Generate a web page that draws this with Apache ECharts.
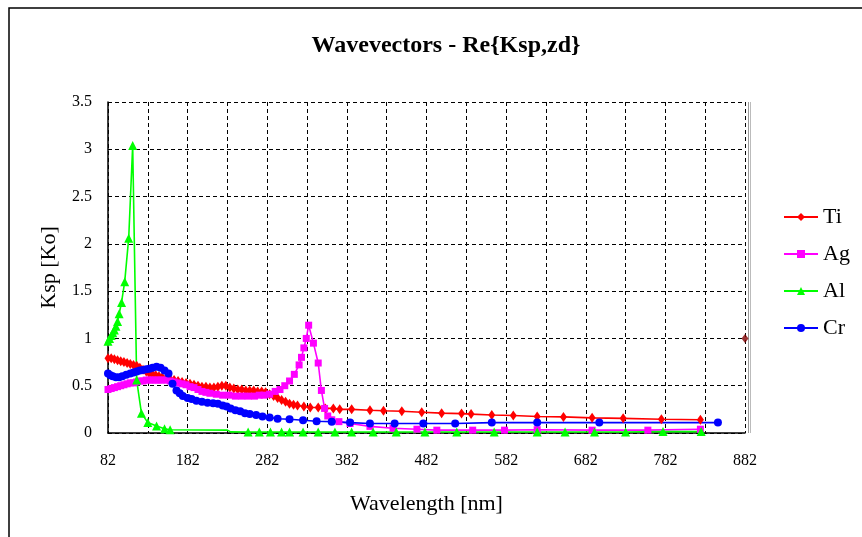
<!DOCTYPE html>
<html>
<head>
<meta charset="utf-8">
<script src="https://cdn.jsdelivr.net/npm/echarts@6/dist/echarts.min.js"></script>
<style>
html,body{margin:0;padding:0;background:#fff;}
#c{width:862px;height:537px;}
</style>
</head>
<body>
<div id="c"></div>
<script>
// ---- data (wavelength nm, Ksp/Ko) ----
const titleText = 'Wavevectors - Re{Ksp,zd}';
const xAxisName = 'Wavelength [nm]';
const yAxisName = 'Ksp [Ko]';
const xTickLabels = [82, 182, 282, 382, 482, 582, 682, 782, 882];
const seriesNames = ['Ti', 'Ag', 'Al', 'Cr'];

const tiData = [
  [82,0.79],[86,0.79],[90,0.78],[94,0.77],[98,0.76],[102,0.75],[106,0.74],[110,0.73],
  [114,0.72],[118,0.71],[122,0.69],[126,0.67],[130,0.65],[134,0.63],[138,0.62],[142,0.61],
  [146,0.60],[150,0.59],[155,0.58],[160,0.57],[165,0.56],[170,0.55],[175,0.54],[180,0.53],
  [185,0.52],[190,0.51],[195,0.50],[200,0.49],[205,0.49],[210,0.48],[215,0.48],[220,0.49],
  [225,0.50],[230,0.50],[235,0.48],[240,0.47],[245,0.46],[250,0.46],[255,0.45],[260,0.45],
  [265,0.45],[270,0.44],[275,0.44],[280,0.43],[285,0.41],[290,0.39],[295,0.37],[300,0.35],
  [305,0.33],[310,0.31],[315,0.30],[320,0.29],[328,0.28],[336,0.27],[346,0.27],[355,0.26],
  [365,0.26],[373,0.25],[388,0.25],[411,0.24],[428,0.235],[451,0.23],[476,0.22],[501,0.21],
  [526,0.205],[538,0.20],[564,0.19],[591,0.185],[621,0.175],[654,0.17],[690,0.16],[729,0.155],
  [777,0.145],[826,0.14]
];

const agData = [
  [82,0.46],[86,0.47],[90,0.48],[94,0.49],[98,0.50],[102,0.51],[106,0.52],[110,0.53],
  [114,0.53],[118,0.54],[122,0.55],[126,0.55],[130,0.56],[134,0.56],[138,0.56],[142,0.56],
  [146,0.56],[150,0.56],[155,0.56],[160,0.55],[165,0.54],[170,0.53],[175,0.52],[180,0.51],
  [185,0.49],[190,0.48],[195,0.46],[200,0.44],[205,0.43],[210,0.42],[218,0.41],[226,0.40],
  [234,0.40],[242,0.39],[250,0.39],[258,0.39],[266,0.39],[272,0.40],[278,0.40],[285,0.41],
  [292,0.44],[298,0.46],[304,0.50],[310,0.55],[316,0.62],[322,0.72],[325,0.80],[328,0.90],
  [331,1.00],[334,1.14],[340,0.95],[346,0.74],[350,0.45],[354,0.26],[358,0.18],[363,0.14],
  [372,0.12],[386,0.10],[411,0.07],[440,0.05],[470,0.04],[495,0.03],[540,0.03],[580,0.03],
  [621,0.035],[690,0.03],[760,0.03],[826,0.04]
];

const alData = [
  [82,0.97],[84,1.00],[86,1.03],[88,1.06],[90,1.09],[92,1.13],[94,1.18],[96,1.26],
  [99,1.38],[103,1.60],[108,2.06],[113,3.04],[118,0.56],[124,0.21],[132,0.11],[143,0.075],
  [153,0.045],[160,0.035],[232,0.03],[236,0.012],[258,0.01],[272,0.01],[286,0.01],[300,0.01],
  [310,0.01],[327,0.01],[346,0.01],[367,0.01],[388,0.01],[415,0.01],[444,0.01],[480,0.01],
  [520,0.01],[567,0.01],[621,0.01],[656,0.01],[693,0.01],[732,0.01],[779,0.015],[827,0.015]
];

const crData = [
  [82,0.63],[85,0.61],[88,0.60],[92,0.59],[96,0.59],[100,0.60],[105,0.615],[110,0.63],
  [114,0.64],[118,0.65],[122,0.66],[126,0.665],[130,0.675],[134,0.68],[138,0.69],[143,0.70],
  [148,0.69],[153,0.66],[158,0.63],[163,0.52],[168,0.45],[172,0.42],[176,0.39],[182,0.37],
  [187,0.36],[193,0.34],[200,0.33],[207,0.32],[214,0.315],[220,0.31],[226,0.29],[231,0.28],
  [236,0.26],[242,0.24],[248,0.23],[254,0.21],[260,0.20],[268,0.19],[276,0.175],[285,0.165],
  [295,0.15],[310,0.145],[327,0.135],[344,0.125],[363,0.12],[386,0.11],[411,0.10],[442,0.10],
  [478,0.10],[518,0.10],[564,0.11],[621,0.11],[699,0.11],[848,0.11]
];

const strayPoint = [[882, 1.0]];

// ---- chart ----
const FONT = '"Liberation Serif", "Times New Roman", serif';
const X_MIN = 82, X_MAX = 882;
const chart = echarts.init(document.getElementById('c'), null, {renderer: 'canvas'});

function mkSeries(name, data, color, symbol, size) {
  return {
    name: name, type: 'line', data: data, xAxisIndex: 0, yAxisIndex: 0,
    symbol: symbol, symbolSize: size, showSymbol: true, showAllSymbol: true,
    lineStyle: {color: color, width: 1.6},
    itemStyle: {color: color},
    emphasis: {disabled: true}, animation: false, z: 3
  };
}

// Al: no markers on the flat stretch between ~165 and ~250 nm
const alSeries = mkSeries('Al', alData, '#00FF00', 'triangle', function (v) {
  return (v[0] > 165 && v[0] < 250) ? 0 : 9;
});

const option = {
  backgroundColor: '#ffffff',
  animation: false,
  title: {
    text: titleText, left: 441, top: 29, textAlign: 'center',
    textStyle: {fontFamily: FONT, fontSize: 24, fontWeight: 'bold', color: '#000'}
  },
  legend: {
    data: seriesNames, orient: 'vertical', left: 778, top: 201,
    itemGap: 15, itemWidth: 34, itemHeight: 10,
    textStyle: {fontFamily: FONT, fontSize: 22, color: '#000'}
  },
  grid: {left: 108, top: 102, width: 637, height: 331, containLabel: false},
  xAxis: [
    {
      type: 'value', min: X_MIN, max: X_MAX, position: 'bottom',
      axisLine: {show: true, onZero: false, lineStyle: {color: '#000', width: 1.5}},
      axisTick: {show: false}, axisLabel: {show: false}, splitLine: {show: false}
    },
    {
      type: 'value', min: 0, max: X_MAX - X_MIN, interval: 50, position: 'bottom',
      name: xAxisName, nameLocation: 'middle', nameGap: 60,
      nameTextStyle: {fontFamily: FONT, fontSize: 22, color: '#000'},
      axisLine: {show: false}, axisTick: {show: false},
      axisLabel: {
        fontFamily: FONT, fontSize: 16, color: '#000', margin: 20,
        formatter: function (v) {
          const lab = v + X_MIN;
          return xTickLabels.indexOf(lab) >= 0 ? String(lab) : '';
        }
      },
      splitLine: {show: true, lineStyle: {color: '#000', type: [4, 3], width: 1}}
    }
  ],
  yAxis: {
    type: 'value', min: 0, max: 3.5, interval: 0.5,
    name: yAxisName, nameLocation: 'middle', nameGap: 48, nameRotate: 90,
    nameTextStyle: {fontFamily: FONT, fontSize: 22, color: '#000'},
    axisLine: {show: true, lineStyle: {color: '#000', width: 1.5}},
    axisTick: {show: false},
    axisLabel: {fontFamily: FONT, fontSize: 16, color: '#000', margin: 16},
    splitLine: {show: true, lineStyle: {color: '#000', type: [4, 3], width: 1}}
  },
  series: [
    mkSeries('Ti', tiData, '#FF0000', 'diamond', [7, 10]),
    mkSeries('Ag', agData, '#FF00FF', 'rect', 7),
    alSeries,
    mkSeries('Cr', crData, '#0000FF', 'circle', 8),
    {
      name: 'stray', type: 'scatter', data: strayPoint, symbol: 'diamond', symbolSize: [7, 9],
      itemStyle: {color: '#800000'}, z: 4, emphasis: {disabled: true}
    }
  ],
  graphic: [
    {type: 'rect', shape: {x: 9, y: 8, width: 880, height: 560}, style: {fill: null, stroke: '#000', lineWidth: 1.5}, silent: true},
    {type: 'line', shape: {x1: 748.5, y1: 102, x2: 748.5, y2: 433}, style: {stroke: '#999', lineWidth: 1}, silent: true},
    {type: 'line', shape: {x1: 750.5, y1: 102, x2: 750.5, y2: 433}, style: {stroke: '#bbb', lineWidth: 1}, silent: true}
  ]
};
chart.setOption(option);
</script>
</body>
</html>
